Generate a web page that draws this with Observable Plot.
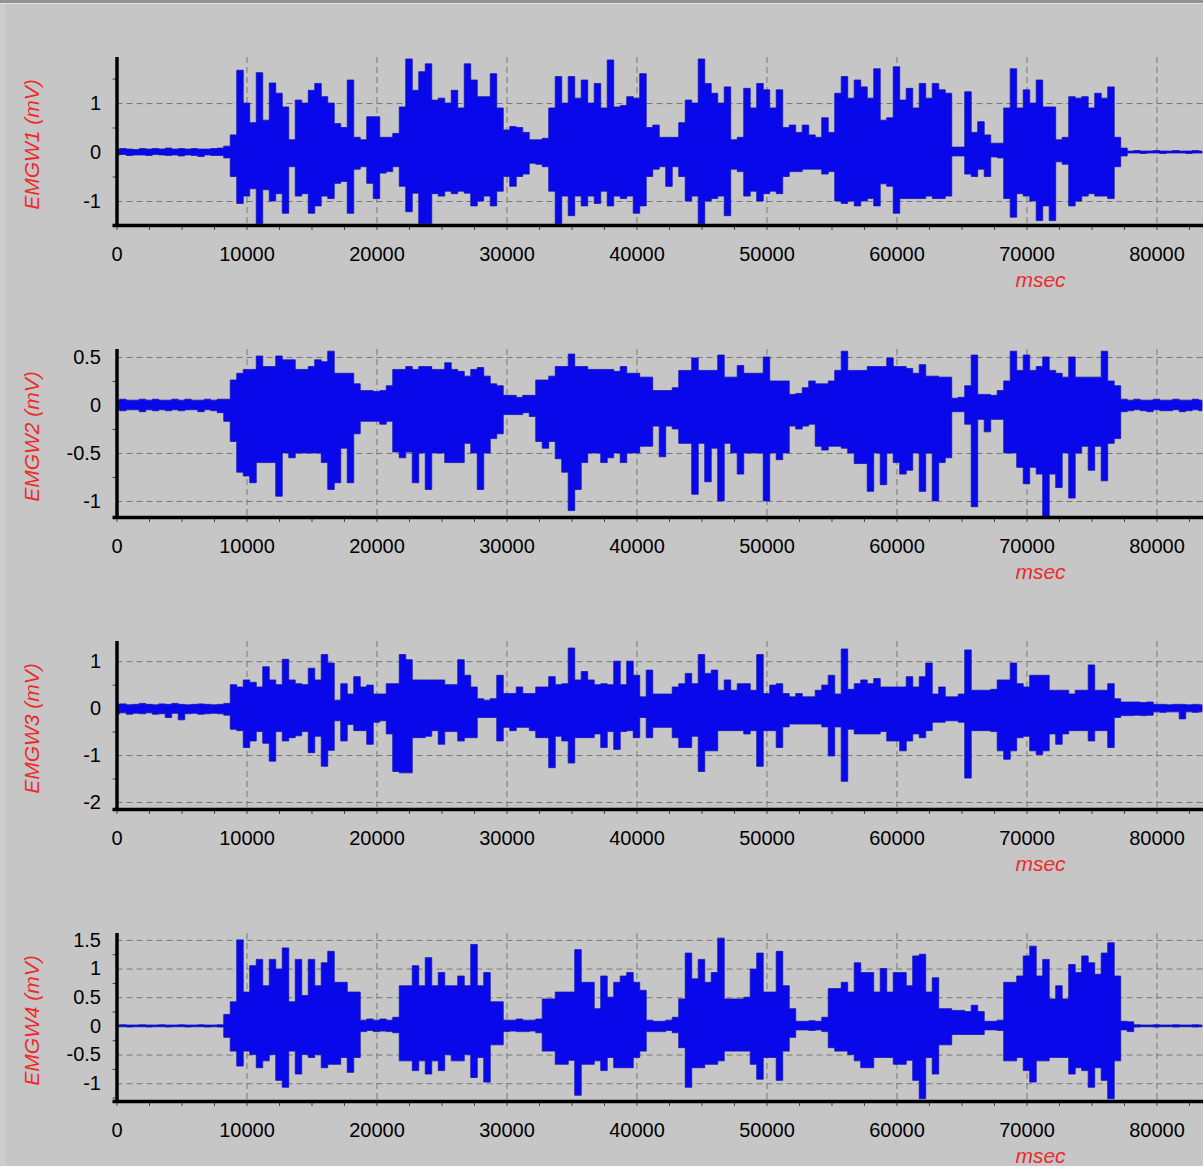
<!DOCTYPE html>
<html>
<head>
<meta charset="utf-8">
<script src="https://cdn.jsdelivr.net/npm/d3@7"></script>
<script src="https://cdn.jsdelivr.net/npm/@observablehq/plot@0.6"></script>
<style>
  html, body { margin: 0; padding: 0; background: #c6c6c6; }
  #wrap { position: relative; width: 1203px; overflow: hidden; }
  #topbar { position: absolute; left: 0; top: 0; width: 1203px; height: 3px; background: #939393; border-bottom: 1px solid #dedede; }
  #leftbar { position: absolute; left: 0; top: 4px; width: 6px; height: 1162px; background: #cdcdcd; }
  #wrap svg { display: block; }
</style>
</head>
<body>
<div id="wrap"><div id="leftbar"></div><div id="topbar"></div><div id="charts"></div></div>
<script>
// ---- data: envelope of each EMG channel, one max/min pair per 500 ms bin ----
const binMs = 500;
const xMax = 83580;
const xTicks = [0, 10000, 20000, 30000, 40000, 50000, 60000, 70000, 80000];
const xMinorTicks = [0,2500,5000,7500,10000,12500,15000,17500,20000,22500,25000,27500,30000,32500,35000,37500,40000,42500,45000,47500,50000,52500,55000,57500,60000,62500,65000,67500,70000,72500,75000,77500,80000,82500];

const emg1Hi = [0.06,0.07,0.06,0.05,0.07,0.06,0.07,0.06,0.08,0.06,0.07,0.06,0.07,0.06,0.06,0.07,0.08,
 0.12,
 0.35,1.67,1.0,0.6,1.62,0.65,1.41,1.2,0.92,0.25,1.06,1.0,
 1.26,1.4,1.13,1.0,0.58,0.5,1.47,0.3,0.25,0.72,0.72,0.3,
 0.3,0.38,0.92,1.9,1.26,1.64,1.8,1.06,1.1,1.0,1.26,0.9,
 1.8,1.47,1.13,1.13,1.6,0.9,0.45,0.52,0.5,0.4,0.25,0.25,
 0.28,0.9,1.54,1.0,1.54,1.1,1.47,1.0,1.4,0.9,1.88,0.92,
 0.95,1.13,1.1,1.6,0.5,0.55,0.3,0.3,0.3,0.6,1.06,1.0,
 1.9,1.4,1.2,1.0,1.33,0.25,0.3,1.3,0.9,1.4,1.27,0.9,
 1.27,0.5,0.55,0.4,0.55,0.35,0.3,0.7,0.4,1.2,1.54,1.1,
 1.47,1.33,1.1,1.7,0.65,0.7,1.74,1.06,1.3,0.9,1.4,1.1,
 1.4,1.27,1.2,0.1,0.1,1.23,0.4,0.62,0.35,0.18,0.18,0.9,
 1.7,0.9,1.27,1.0,1.47,0.92,0.92,0.25,0.3,1.13,1.1,1.13,
 0.9,1.2,1.1,1.33,0.3,0.08,
 0.02,0.03,0.02,0.02,0.03,0.02,0.02,0.03,0.02,0.02,0.03,0.02];
const emg1Lo = [-0.06,-0.05,-0.07,-0.06,-0.06,-0.07,-0.05,-0.06,-0.07,-0.06,-0.08,-0.06,-0.07,-0.09,-0.06,-0.07,-0.07,
 -0.12,
 -0.5,-1.05,-0.9,-0.75,-1.46,-0.77,-1.0,-0.85,-1.25,-0.3,-0.9,-0.85,
 -1.25,-1.1,-0.9,-0.95,-0.64,-0.6,-1.25,-0.35,-0.3,-0.64,-0.95,-0.43,
 -0.4,-0.3,-0.7,-1.22,-0.84,-1.46,-1.46,-0.85,-0.9,-0.8,-0.85,-0.8,
 -0.84,-1.1,-1.0,-0.9,-1.1,-0.8,-0.5,-0.7,-0.5,-0.45,-0.23,-0.25,
 -0.3,-0.8,-1.46,-0.9,-1.3,-0.9,-1.1,-0.9,-1.05,-0.8,-1.1,-0.9,
 -0.95,-0.9,-1.25,-1.1,-0.5,-0.35,-0.3,-0.7,-0.3,-0.5,-1.0,-0.9,
 -1.46,-1.0,-0.95,-0.9,-1.3,-0.35,-0.4,-0.9,-0.8,-1.0,-0.85,-0.8,
 -0.85,-0.5,-0.4,-0.4,-0.35,-0.35,-0.35,-0.45,-0.4,-1.0,-1.05,-1.0,
 -1.1,-1.0,-0.95,-1.1,-0.65,-0.7,-1.25,-0.95,-0.95,-0.95,-0.95,-0.9,
 -0.95,-0.95,-0.9,-0.08,-0.08,-0.45,-0.5,-0.35,-0.5,-0.1,-0.12,-0.95,
 -1.33,-0.85,-0.9,-1.0,-1.4,-1.1,-1.4,-0.2,-0.25,-1.1,-1.0,-0.9,
 -0.85,-0.9,-0.9,-0.95,-0.3,-0.08,
 -0.02,-0.02,-0.03,-0.02,-0.02,-0.03,-0.02,-0.02,-0.02,-0.03,-0.02,-0.02];

const emg2Hi = [0.05,0.06,0.05,0.05,0.06,0.05,0.06,0.05,0.05,0.06,0.05,0.06,0.05,0.05,0.06,0.05,0.06,
 0.06,
 0.26,0.33,0.37,0.37,0.51,0.4,0.4,0.51,0.47,0.47,0.37,0.37,
 0.4,0.47,0.45,0.56,0.33,0.33,0.33,0.22,0.15,0.15,0.14,0.15,
 0.2,0.37,0.37,0.4,0.37,0.4,0.4,0.37,0.37,0.44,0.37,0.35,
 0.3,0.37,0.39,0.3,0.22,0.2,0.1,0.1,0.08,0.1,0.1,0.26,
 0.26,0.3,0.4,0.4,0.53,0.4,0.4,0.37,0.37,0.37,0.37,0.35,
 0.4,0.33,0.33,0.29,0.29,0.15,0.15,0.15,0.18,0.36,0.36,0.49,
 0.36,0.36,0.36,0.52,0.29,0.29,0.41,0.33,0.33,0.33,0.5,0.25,
 0.25,0.25,0.11,0.12,0.18,0.25,0.22,0.22,0.25,0.36,0.56,0.36,
 0.36,0.36,0.4,0.4,0.4,0.49,0.4,0.4,0.38,0.33,0.42,0.3,
 0.3,0.29,0.29,0.07,0.08,0.2,0.52,0.11,0.11,0.1,0.15,0.25,
 0.56,0.36,0.52,0.36,0.4,0.5,0.36,0.33,0.29,0.5,0.29,0.29,
 0.29,0.29,0.56,0.25,0.2,0.06,
 0.05,0.06,0.05,0.05,0.06,0.05,0.05,0.06,0.05,0.05,0.06,0.05];
const emg2Lo = [-0.05,-0.06,-0.05,-0.05,-0.07,-0.05,-0.06,-0.05,-0.06,-0.05,-0.06,-0.05,-0.05,-0.07,-0.05,-0.06,-0.08,
 -0.17,
 -0.38,-0.7,-0.74,-0.81,-0.6,-0.6,-0.6,-0.95,-0.5,-0.55,-0.5,-0.5,
 -0.5,-0.5,-0.6,-0.88,-0.81,-0.45,-0.81,-0.3,-0.17,-0.17,-0.17,-0.2,
 -0.17,-0.49,-0.55,-0.49,-0.81,-0.5,-0.88,-0.5,-0.5,-0.6,-0.6,-0.6,
 -0.4,-0.5,-0.88,-0.5,-0.35,-0.3,-0.1,-0.1,-0.1,-0.08,-0.12,-0.38,
 -0.45,-0.38,-0.56,-0.7,-1.1,-0.88,-0.6,-0.5,-0.5,-0.6,-0.55,-0.5,
 -0.6,-0.5,-0.5,-0.43,-0.43,-0.22,-0.54,-0.22,-0.25,-0.4,-0.4,-0.93,
 -0.4,-0.8,-0.45,-1.0,-0.4,-0.5,-0.72,-0.5,-0.5,-0.5,-1.0,-0.5,
 -0.57,-0.5,-0.22,-0.25,-0.22,-0.2,-0.43,-0.47,-0.43,-0.43,-0.45,-0.5,
 -0.61,-0.61,-0.9,-0.5,-0.83,-0.5,-0.6,-0.72,-0.68,-0.5,-0.9,-0.5,
 -1.0,-0.6,-0.55,-0.07,-0.07,-0.2,-1.06,-0.15,-0.28,-0.15,-0.15,-0.5,
 -0.5,-0.65,-0.82,-0.65,-0.72,-1.2,-0.72,-0.86,-0.5,-0.97,-0.5,-0.43,
 -0.68,-0.43,-0.79,-0.4,-0.35,-0.07,
 -0.06,-0.05,-0.06,-0.07,-0.05,-0.06,-0.06,-0.05,-0.07,-0.06,-0.05,-0.06];

const emg3Hi = [0.08,0.09,0.07,0.08,0.1,0.08,0.07,0.09,0.08,0.1,0.08,0.07,0.08,0.09,0.08,0.07,0.08,
 0.1,
 0.5,0.45,0.6,0.55,0.45,0.88,0.6,0.5,1.04,0.6,0.52,0.5,
 0.85,0.6,1.14,0.96,0.17,0.52,0.3,0.67,0.45,0.49,0.3,0.3,
 0.52,0.52,1.14,1.03,0.6,0.6,0.6,0.6,0.6,0.5,0.5,1.03,
 0.7,0.45,0.2,0.17,0.2,0.7,0.31,0.31,0.45,0.31,0.31,0.45,
 0.45,0.67,0.5,0.52,1.28,0.6,0.78,0.6,0.5,0.52,0.5,1.0,
 0.5,1.0,0.7,0.24,0.81,0.3,0.3,0.3,0.45,0.52,0.74,0.52,
 1.14,0.74,0.81,0.38,0.6,0.38,0.52,0.52,0.38,1.14,0.31,0.49,
 0.52,0.31,0.24,0.31,0.24,0.24,0.38,0.49,0.7,0.3,1.26,0.4,
 0.52,0.6,0.52,0.63,0.45,0.45,0.45,0.45,0.67,0.45,0.67,0.96,
 0.3,0.45,0.24,0.24,0.3,1.24,0.38,0.38,0.38,0.4,0.6,0.6,
 0.96,0.52,0.45,0.7,0.7,0.7,0.38,0.38,0.38,0.3,0.38,0.38,
 0.92,0.38,0.38,0.52,0.2,0.13,
 0.13,0.13,0.12,0.13,0.08,0.08,0.07,0.08,0.08,0.07,0.08,0.07];
const emg3Lo = [-0.12,-0.1,-0.13,-0.11,-0.12,-0.1,-0.13,-0.12,-0.2,-0.11,-0.25,-0.12,-0.11,-0.13,-0.12,-0.11,-0.12,
 -0.15,
 -0.45,-0.48,-0.84,-0.7,-0.5,-0.75,-1.13,-0.5,-0.7,-0.63,-0.59,-0.5,
 -0.95,-0.6,-1.24,-0.9,-0.27,-0.7,-0.35,-0.48,-0.48,-0.77,-0.3,-0.27,
 -0.55,-1.35,-1.38,-1.38,-0.63,-0.63,-0.6,-0.48,-0.77,-0.5,-0.5,-0.7,
 -0.63,-0.63,-0.2,-0.2,-0.2,-0.7,-0.41,-0.48,-0.41,-0.41,-0.48,-0.63,
 -0.63,-1.27,-0.6,-0.7,-1.17,-0.63,-0.63,-0.63,-0.55,-0.84,-0.5,-0.88,
 -0.5,-0.48,-0.63,-0.2,-0.63,-0.41,-0.41,-0.41,-0.63,-0.84,-0.84,-0.6,
 -1.35,-0.91,-0.91,-0.48,-0.48,-0.48,-0.48,-0.55,-0.48,-1.24,-0.48,-0.48,
 -0.84,-0.4,-0.34,-0.34,-0.34,-0.34,-0.34,-0.4,-1.02,-0.4,-1.56,-0.45,
 -0.55,-0.55,-0.55,-0.55,-0.5,-0.7,-0.7,-0.91,-0.7,-0.55,-0.63,-0.48,
 -0.3,-0.3,-0.27,-0.27,-0.3,-1.49,-0.48,-0.48,-0.48,-0.5,-0.91,-1.09,
 -0.91,-0.63,-0.6,-0.91,-0.99,-0.91,-0.55,-0.77,-0.55,-0.48,-0.48,-0.48,
 -0.7,-0.48,-0.48,-0.84,-0.2,-0.16,
 -0.16,-0.15,-0.16,-0.15,-0.08,-0.09,-0.08,-0.08,-0.23,-0.08,-0.09,-0.08];

const emg4Hi = [0.015,0.02,0.015,0.015,0.02,0.015,0.015,0.02,0.015,0.015,0.02,0.015,0.015,0.02,0.015,0.015,0.02,
 0.2,
 0.42,1.5,0.59,1.05,1.16,0.7,1.16,0.99,1.36,0.42,1.16,0.53,
 1.16,0.7,1.1,1.3,0.76,0.76,0.59,0.59,0.1,0.12,0.1,0.12,
 0.1,0.15,0.7,0.7,1.05,0.7,1.19,0.7,0.93,0.7,0.7,0.87,
 0.7,1.42,0.7,0.93,0.42,0.42,0.1,0.1,0.12,0.1,0.1,0.12,
 0.47,0.47,0.59,0.59,0.59,1.33,0.76,0.76,0.3,0.87,0.5,0.76,
 0.87,0.93,0.76,0.62,0.1,0.08,0.08,0.1,0.15,0.47,1.27,0.82,
 1.16,0.76,0.93,1.53,0.47,0.47,0.47,0.5,0.99,1.27,0.59,0.59,
 1.3,0.7,0.3,0.08,0.08,0.09,0.08,0.15,0.65,0.65,0.76,0.59,
 1.1,0.93,0.93,0.59,1.0,0.59,0.93,0.93,0.7,1.22,1.25,0.59,
 0.84,0.3,0.3,0.27,0.27,0.25,0.36,0.25,0.08,0.08,0.1,0.76,
 0.76,0.87,1.22,1.39,0.87,1.16,0.47,0.7,0.47,1.07,0.93,1.22,
 1.1,0.9,1.27,1.45,0.87,0.08,
 0.07,0.02,0.015,0.015,0.02,0.015,0.015,0.02,0.015,0.015,0.02,0.015];
const emg4Lo = [-0.015,-0.015,-0.02,-0.015,-0.015,-0.02,-0.015,-0.015,-0.02,-0.015,-0.015,-0.02,-0.015,-0.015,-0.02,-0.015,-0.02,
 -0.2,
 -0.44,-0.7,-0.44,-0.5,-0.73,-0.61,-0.5,-0.95,-1.07,-0.44,-0.84,-0.5,
 -0.55,-0.5,-0.73,-0.67,-0.67,-0.55,-0.81,-0.55,-0.1,-0.08,-0.1,-0.09,
 -0.1,-0.12,-0.61,-0.61,-0.78,-0.61,-0.84,-0.61,-0.78,-0.5,-0.61,-0.61,
 -0.5,-0.9,-0.55,-0.98,-0.33,-0.33,-0.1,-0.09,-0.1,-0.1,-0.09,-0.12,
 -0.44,-0.44,-0.67,-0.67,-0.6,-1.21,-0.67,-0.67,-0.61,-0.78,-0.55,-0.73,
 -0.73,-0.73,-0.55,-0.44,-0.1,-0.1,-0.1,-0.08,-0.12,-0.38,-1.07,-0.73,
 -0.73,-0.67,-0.67,-0.61,-0.44,-0.44,-0.44,-0.44,-0.67,-0.93,-0.55,-0.55,
 -0.95,-0.44,-0.2,-0.07,-0.07,-0.08,-0.07,-0.1,-0.38,-0.44,-0.44,-0.5,
 -0.61,-0.73,-0.73,-0.55,-0.55,-0.55,-0.67,-0.67,-0.6,-0.95,-1.27,-0.55,
 -0.84,-0.33,-0.33,-0.15,-0.15,-0.15,-0.15,-0.15,-0.07,-0.07,-0.08,-0.61,
 -0.61,-0.55,-0.78,-0.98,-0.61,-0.61,-0.55,-0.55,-0.55,-0.84,-0.73,-0.78,
 -1.07,-0.73,-0.95,-1.27,-0.61,-0.07,
 -0.1,-0.02,-0.015,-0.015,-0.02,-0.015,-0.015,-0.02,-0.015,-0.015,-0.02,-0.015];

const channelLabels = ["EMGW1 (mV)", "EMGW2 (mV)", "EMGW3 (mV)", "EMGW4 (mV)"];
const yDomains = [[-1.49, 1.94], [-1.167, 0.583], [-2.15, 1.43], [-1.31, 1.62]];
const yTickSets = [[-1, 0, 1], [-1, -0.5, 0, 0.5], [-2, -1, 0, 1], [-1, -0.5, 0, 0.5, 1, 1.5]];
const yMinorSets = [[-0.5, 0.5, 1.5], [-0.75, -0.25, 0.25], [-1.5, -0.5, 0.5], [-1.25, -0.75, -0.25, 0.25, 0.75, 1.25]];
const xLabel = "msec";

// ---- drawing ----
const blue = "#0808ea";
const edge = "#1414b4";
const red = "#ee2a2a";
const gridColor = "#787878";

function panel(k, hi, lo) {
  const bins = hi.map((h, i) => ({t: i * binMs, hi: h, lo: lo[i]}));
  const dom = yDomains[k];
  return Plot.plot({
    width: 1203, height: 292,
    marginLeft: 116.5, marginRight: 0, marginTop: 57, marginBottom: 67,
    x: {domain: [0, xMax], label: null},
    y: {domain: dom, label: null},
    style: {background: "none", fontFamily: "'Liberation Sans', Arial, sans-serif", fontSize: "20px", color: "black", overflow: "visible"},
    marks: [
      Plot.gridX(xTicks, {stroke: gridColor, strokeOpacity: 1, strokeWidth: 1, strokeDasharray: "6,4"}),
      Plot.gridY(yTickSets[k], {stroke: gridColor, strokeOpacity: 1, strokeWidth: 1, strokeDasharray: "6,4"}),
      Plot.areaY(bins, {x: "t", y1: "lo", y2: "hi", curve: "step", fill: blue, fillOpacity: 1,
        stroke: edge, strokeWidth: 0.8, clip: true}),
      Plot.axisX(xMinorTicks, {tickSize: 5, text: null, stroke: "#444", strokeWidth: 1, label: null}),
      Plot.axisX(xTicks, {tickSize: 0, tickPadding: 21, tickFormat: d => String(d), fontSize: 20, label: null}),
      Plot.axisY(yMinorSets[k], {tickSize: 4, text: null, stroke: "#444", label: null}),
      Plot.axisY(yTickSets[k], {tickSize: 0, tickPadding: 16, tickFormat: d => String(d), fontSize: 20, label: null}),
      Plot.ruleX([0], {stroke: "black", strokeWidth: 3.5}),
      Plot.ruleY([dom[0]], {stroke: "black", strokeWidth: 3.5, insetLeft: -4}),
      Plot.text([channelLabels[k]], {text: d => d, frameAnchor: "left", rotate: -90, dx: -84.5, dy: 3,
        textAnchor: "middle", lineAnchor: "middle", fill: red, fontStyle: "italic", fontSize: 21}),
      Plot.text([xLabel], {text: d => d, frameAnchor: "bottom-right", dx: -163, dy: 55,
        textAnchor: "middle", lineAnchor: "middle", fill: red, fontStyle: "italic", fontSize: 21})
    ]
  });
}

const holder = document.getElementById("charts");
[[emg1Hi, emg1Lo], [emg2Hi, emg2Lo], [emg3Hi, emg3Lo], [emg4Hi, emg4Lo]].forEach(([h, l], k) => {
  holder.appendChild(panel(k, h, l));
});
</script>
</body>
</html>
